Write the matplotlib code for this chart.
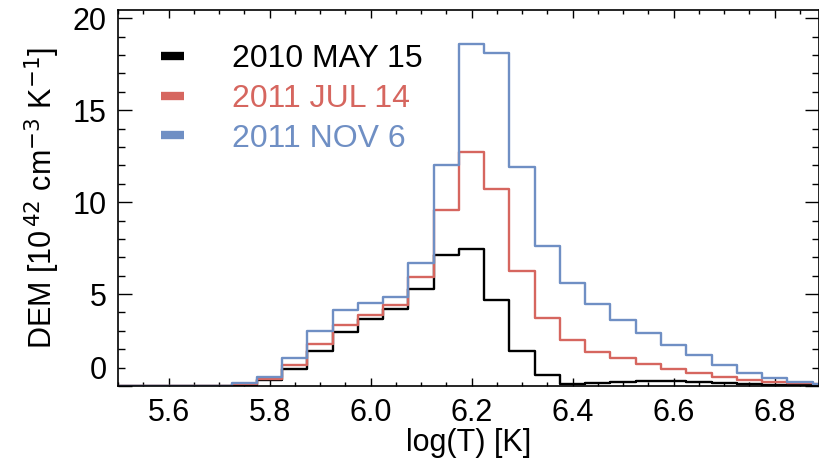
import matplotlib
matplotlib.use("Agg")
import matplotlib.pyplot as plt
from matplotlib.lines import Line2D
from matplotlib.ticker import MultipleLocator, FormatStrFormatter

plt.rcParams["font.family"] = ["Liberation Sans", "DejaVu Sans"]

# bin centres in log(T), 0.05 wide
log_t = [5.50, 5.55, 5.60, 5.65, 5.70, 5.75, 5.80, 5.85, 5.90, 5.95,
         6.00, 6.05, 6.10, 6.15, 6.20, 6.25, 6.30, 6.35, 6.40, 6.45,
         6.50, 6.55, 6.60, 6.65, 6.70, 6.75, 6.80, 6.85, 6.90]

dem_2010_may15 = [0.0, 0.0, 0.0, 0.0, 0.0, 0.05, 0.30, 0.90, 1.92, 2.95,
                  3.64, 4.20, 5.29, 7.10, 7.45, 4.70, 1.88, 0.60, 0.10, 0.15,
                  0.23, 0.29, 0.28, 0.22, 0.15, 0.10, 0.07, 0.05, 0.03]

dem_2011_jul14 = [0.0, 0.0, 0.0, 0.0, 0.0, 0.10, 0.38, 1.14, 2.30, 3.33,
                  3.88, 4.38, 5.94, 9.55, 12.73, 10.74, 6.23, 3.71, 2.50, 1.86,
                  1.54, 1.21, 0.92, 0.69, 0.51, 0.33, 0.23, 0.18, 0.10]

dem_2011_nov6 = [0.0, 0.0, 0.0, 0.0, 0.02, 0.15, 0.50, 1.54, 2.97, 4.13,
                 4.53, 4.85, 6.67, 12.03, 18.62, 18.13, 11.92, 7.61, 5.58, 4.44,
                 3.59, 2.86, 2.23, 1.67, 1.16, 0.72, 0.42, 0.20, 0.10]

labels = ["2010 MAY 15", "2011 JUL 14", "2011 NOV 6"]
colors = ["black", "#d6665f", "#6f8fc4"]

fig = plt.figure(figsize=(8.2, 4.69), dpi=100)
ax = fig.add_axes([0.1439, 0.177, 0.855, 0.8017])

for ys, c in zip([dem_2010_may15, dem_2011_jul14, dem_2011_nov6], colors):
    ax.step(log_t, ys, where="mid", color=c, lw=1.7)

ax.set_xlim(5.5, 6.888)
ax.set_ylim(0, 20.45)

ax.xaxis.set_major_locator(MultipleLocator(0.2))
ax.xaxis.set_minor_locator(MultipleLocator(0.05))
ax.yaxis.set_major_locator(MultipleLocator(5))
ax.yaxis.set_minor_locator(MultipleLocator(1))
ax.xaxis.set_major_formatter(FormatStrFormatter("%.1f"))
ax.yaxis.set_major_formatter(FormatStrFormatter("%d"))

ax.tick_params(axis="both", which="both", direction="in", top=True, right=True,
               labelsize=22, width=1.0)
ax.tick_params(axis="x", which="major", length=5.5, pad=9)
ax.tick_params(axis="x", which="minor", length=2.8)
ax.tick_params(axis="y", which="major", length=10, pad=8)
ax.tick_params(axis="y", which="minor", length=5)

for sp in ax.spines.values():
    sp.set_linewidth(1.2)

ax.set_xlabel("log(T) [K]", fontsize=22, labelpad=0)
ax.set_ylabel(r"DEM [10$^{\,42}$ cm$^{-3}$ K$^{-1}$]", fontsize=22, labelpad=8)

handles = [Line2D([], [], color=c, lw=6, solid_capstyle="butt") for c in colors]
ax.legend(handles, labels, loc="upper left", bbox_to_anchor=(0.02, 0.985),
          frameon=False, fontsize=23, handlelength=0.72, handletextpad=1.5,
          labelspacing=0.3, labelcolor=colors)

# the zero label sits above the axis line
fig.canvas.draw()
for lab in ax.get_yticklabels():
    if lab.get_text() == "0":
        lab.set_verticalalignment("bottom")

fig.savefig("out.png", dpi=100)
